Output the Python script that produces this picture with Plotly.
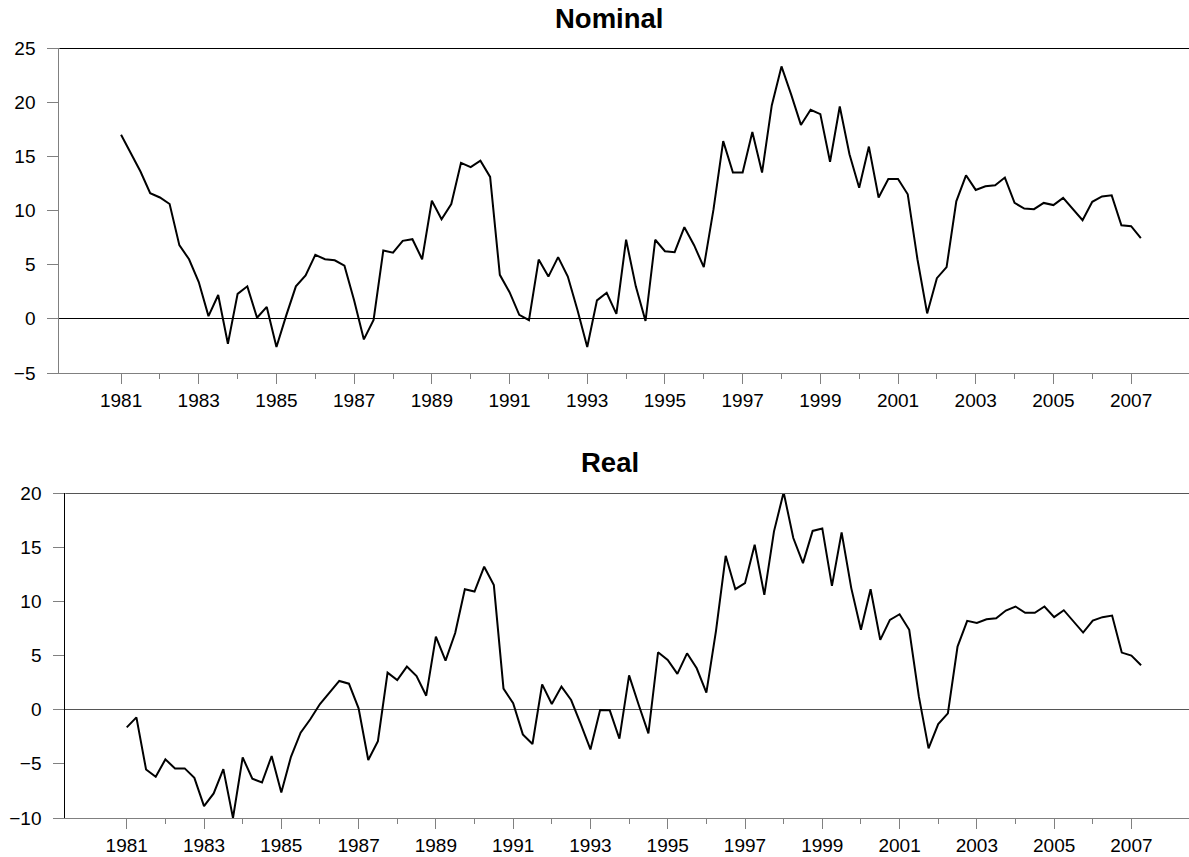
import plotly.graph_objects as go

# Quarterly data, 1981Q1 .. 2007Q2
start_year = 1981
nominal = [17.0, 15.3, 13.6, 11.6, 11.2, 10.6, 6.8, 5.5, 3.4, 0.25,
           2.2, -2.3, 2.3, 3.0, 0.1, 1.1, -2.6, 0.3, 3.0, 4.0,
           5.9, 5.5, 5.4, 4.9, 1.7, -1.9, -0.1, 6.3, 6.1, 7.2,
           7.35, 5.5, 10.9, 9.2, 10.6, 14.4, 14.0, 14.6, 13.1, 4.06,
           2.46, 0.37, -0.12, 5.47, 3.9, 5.7, 3.9, 0.8, -2.6, 1.7,
           2.4, 0.46, 7.3, 3.0, -0.2, 7.3, 6.24, 6.15, 8.46, 6.8,
           4.77, 10.1, 16.4, 13.5, 13.5, 17.25, 13.5, 19.7, 23.3, 20.7,
           17.9, 19.3, 18.9, 14.5, 19.6, 15.2, 12.1, 15.9, 11.2, 12.9,
           12.9, 11.5, 5.5, 0.5, 3.75, 4.77, 10.85, 13.25, 11.9, 12.24,
           12.33, 13.04, 10.7, 10.18, 10.12, 10.7, 10.5, 11.16, 10.12, 9.1,
           10.8, 11.3, 11.4, 8.64, 8.55, 7.44]
real = [-1.63, -0.71, -5.52, -6.19, -4.59, -5.42, -5.42, -6.29, -8.91, -7.73,
        -5.49, -10.0, -4.41, -6.38, -6.72, -4.28, -7.64, -4.35, -2.13, -0.89,
        0.52, 1.6, 2.65, 2.4, 0.12, -4.65, -2.9, 3.42, 2.74, 3.98,
        3.11, 1.29, 6.75, 4.53, 7.08, 11.12, 10.9, 13.2, 11.5, 1.94,
        0.59, -2.28, -3.17, 2.34, 0.52, 2.13, 0.89, -1.33, -3.67, -0.03,
        -0.06, -2.68, 3.17, 0.43, -2.19, 5.3, 4.59, 3.3, 5.2, 3.82,
        1.57, 7.3, 14.2, 11.12, 11.68, 15.22, 10.6, 16.46, 20.06, 15.84,
        13.53, 16.5, 16.73, 11.43, 16.36, 11.22, 7.37, 11.12, 6.44, 8.29,
        8.81, 7.37, 1.2, -3.57, -1.33, -0.34, 5.82, 8.2, 8.01, 8.35,
        8.44, 9.15, 9.52, 8.94, 8.94, 9.52, 8.54, 9.18, 8.14, 7.12,
        8.23, 8.54, 8.69, 5.27, 4.99, 4.1]
quarters = [start_year + q / 4 for q in range(len(nominal))]

major_years = list(range(1981, 2008, 2))
major_labels = [str(y) for y in major_years]
minor_years = list(range(1982, 2008, 2))

W, H = 1189, 857
FONT = "Liberation Sans, Arial, sans-serif"
GRAY = "#808080"
XRANGE = [1979.41, 2008.49]

TOP_Y = (48, 373)     # pixel rows of the top panel (25 .. -5)
BOT_Y = (493, 818)    # pixel rows of the bottom panel (20 .. -10)

fig = go.Figure()
fig.add_trace(go.Scatter(x=quarters, y=nominal, mode="lines",
                         line=dict(color="black", width=2),
                         xaxis="x", yaxis="y", showlegend=False))
fig.add_trace(go.Scatter(x=quarters, y=real, mode="lines",
                         line=dict(color="black", width=2),
                         xaxis="x2", yaxis="y2", showlegend=False))


def xax(domain, anchor):
    return dict(domain=domain, anchor=anchor, range=XRANGE, automargin=False,
                showgrid=False, zeroline=False,
                showline=True, linecolor=GRAY, linewidth=1,
                tickmode="array", tickvals=major_years, ticktext=major_labels,
                ticks="outside", ticklen=10, tickwidth=1, tickcolor=GRAY,
                ticklabelstandoff=0,
                tickfont=dict(family=FONT, size=19, color="black"),
                minor=dict(tickmode="array", tickvals=minor_years,
                           ticks="outside", ticklen=5, tickwidth=1,
                           tickcolor=GRAY, showgrid=False))


def yax(domain, anchor, rng, lc, zc):
    return dict(domain=domain, anchor=anchor, range=rng, automargin=False,
                tickmode="linear", tick0=rng[0], dtick=5,
                showgrid=False, zeroline=True, zerolinecolor=zc,
                zerolinewidth=1,
                showline=True, linecolor=lc, linewidth=1,
                ticks="outside", ticklen=11, tickwidth=1, tickcolor=GRAY,
                ticklabelstandoff=8,
                tickfont=dict(family=FONT, size=19, color="black"))


# half a pixel in data units, so the top border line lands on a full pixel row
half_top = 0.5 * 30 / (TOP_Y[1] - TOP_Y[0])
half_bot = 0.5 * 30 / (BOT_Y[1] - BOT_Y[0])

fig.update_layout(
    width=W, height=H,
    margin=dict(l=0, r=0, t=0, b=0, pad=0, autoexpand=False),
    paper_bgcolor="white", plot_bgcolor="white",
    xaxis=xax([59.3 / W, 1.0], "y"),
    yaxis=yax([1 - TOP_Y[1] / H, 1 - TOP_Y[0] / H], "x", [-5, 25], GRAY, "black"),
    xaxis2=xax([65.3 / W, 1.0], "y2"),
    yaxis2=yax([1 - BOT_Y[1] / H, 1 - BOT_Y[0] / H], "x2", [-10, 20], "black", "#555555"),
    shapes=[
        dict(type="line", xref="x domain", yref="y", x0=0, x1=1,
             y0=25 - half_top, y1=25 - half_top,
             line=dict(color="black", width=1)),
        dict(type="line", xref="x2 domain", yref="y2", x0=0, x1=1,
             y0=20 - half_bot, y1=20 - half_bot,
             line=dict(color="#555555", width=1)),
    ],
    annotations=[
        dict(text="<b>Nominal</b>", xref="paper", yref="paper",
             x=609 / W, y=1 - 18.5 / H, xanchor="center", yanchor="middle",
             showarrow=False, font=dict(family=FONT, size=27.5, color="black")),
        dict(text="<b>Real</b>", xref="paper", yref="paper",
             x=610 / W, y=1 - 463 / H, xanchor="center", yanchor="middle",
             showarrow=False, font=dict(family=FONT, size=27.5, color="black")),
    ],
)

fig.write_html("out.html",
               config={"displayModeBar": False},
               post_script="document.body.style.margin='0';document.body.style.overflow='hidden';")
